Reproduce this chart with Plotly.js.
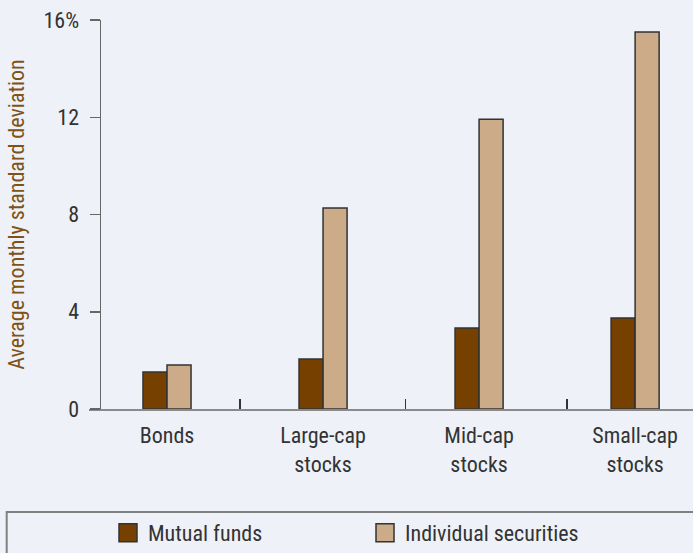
<!DOCTYPE html>
<html><head><meta charset="utf-8">
<script src="https://cdn.plot.ly/plotly-3.0.1.min.js"></script>
<style>html,body{margin:0;padding:0;background:#eef1f8;overflow:hidden}</style>
</head><body><div id="chart" style="width:693px;height:553px"></div>
<script>
const categories = ['Bonds', 'Large-cap<br>stocks', 'Mid-cap<br>stocks', 'Small-cap<br>stocks'];
const mutualFunds = [1.52, 2.06, 3.33, 3.74];
const individualSecurities = [1.81, 8.27, 11.92, 15.51];
const yTickVals = [0, 4, 8, 12, 16];
const yTickText = ['0', '4', '8', '12', '16%'];
const seriesNames = ['Mutual funds', 'Individual securities'];
const dividerTicks = [0.467, 1.527, 2.564];

const FONT = "'Liberation Sans Narrow', 'Roboto Condensed', 'DejaVu Sans Condensed', 'Arial Narrow', sans-serif";
const BG = '#eef1f8';

const traces = [
  {type: 'bar', x: categories, y: mutualFunds, name: seriesNames[0],
   marker: {color: '#764100', line: {color: '#333333', width: 1.5}}},
  {type: 'bar', x: categories, y: individualSecurities, name: seriesNames[1],
   marker: {color: '#cbab88', line: {color: '#333333', width: 1.5}}},
  {type: 'scatter', mode: 'markers', x: [], y: [], xaxis: 'x2', yaxis: 'y',
   showlegend: false, hoverinfo: 'skip'}
];

const layout = {
  width: 693, height: 553,
  margin: {l: 89, r: 0, t: 20, b: 144},
  paper_bgcolor: BG, plot_bgcolor: BG,
  font: {family: FONT, size: 22, color: '#333333'},
  barmode: 'group', bargap: 0.692, bargroupgap: 0,
  showlegend: true,
  legend: {orientation: 'h', xref: 'container', yref: 'container', x: 108/693, y: 20/553,
           xanchor: 'left', yanchor: 'middle', bgcolor: 'rgba(0,0,0,0)', borderwidth: 0,
           entrywidth: 212, traceorder: 'normal',
           font: {family: FONT, size: 22, color: '#333333'}},
  xaxis: {type: 'category', range: [-0.5, 3.371], showgrid: false, zeroline: false,
          showline: true, linecolor: '#8a8a8a', linewidth: 1.5, ticks: '',
          ticklabelstandoff: 6,
          tickfont: {family: FONT, size: 22, color: '#333333'}, fixedrange: true},
  xaxis2: {overlaying: 'x', anchor: 'y', range: [-0.5, 3.371], showgrid: false, zeroline: false,
           showline: false, tickmode: 'array', tickvals: dividerTicks, ticks: 'inside', ticklen: 10,
           tickwidth: 1.5, tickcolor: '#333333', showticklabels: false, side: 'bottom'},
  yaxis: {range: [0, 16], tickmode: 'array', tickvals: yTickVals, ticktext: yTickText,
          showgrid: false, zeroline: false, showline: true, linecolor: '#666666', linewidth: 1.5,
          ticks: 'outside', ticklen: 10, tickwidth: 1.5, tickcolor: '#666666',
          anchor: 'free', position: 10.5/604, ticklabelstandoff: 6,
          tickfont: {family: FONT, size: 22, color: '#333333'},
          title: {text: 'Average monthly standard deviation', standoff: 11,
                  font: {family: FONT, size: 22, color: '#7f5217'}}},
  shapes: [
    {type: 'rect', xref: 'paper', yref: 'paper', x0: (6.7-89)/604, x1: 1.05,
     y0: (409-512)/389, y1: -0.5, line: {color: '#808080', width: 2}, fillcolor: 'rgba(0,0,0,0)', layer: 'below'}
  ]
};

Plotly.newPlot('chart', traces, layout, {displayModeBar: false, staticPlot: true}).then(function () {
  document.querySelectorAll('.legendpoints path').forEach(function (p) {
    p.setAttribute('d', 'M9,9H-9V-9H9Z');
  });
});
</script></body></html>
